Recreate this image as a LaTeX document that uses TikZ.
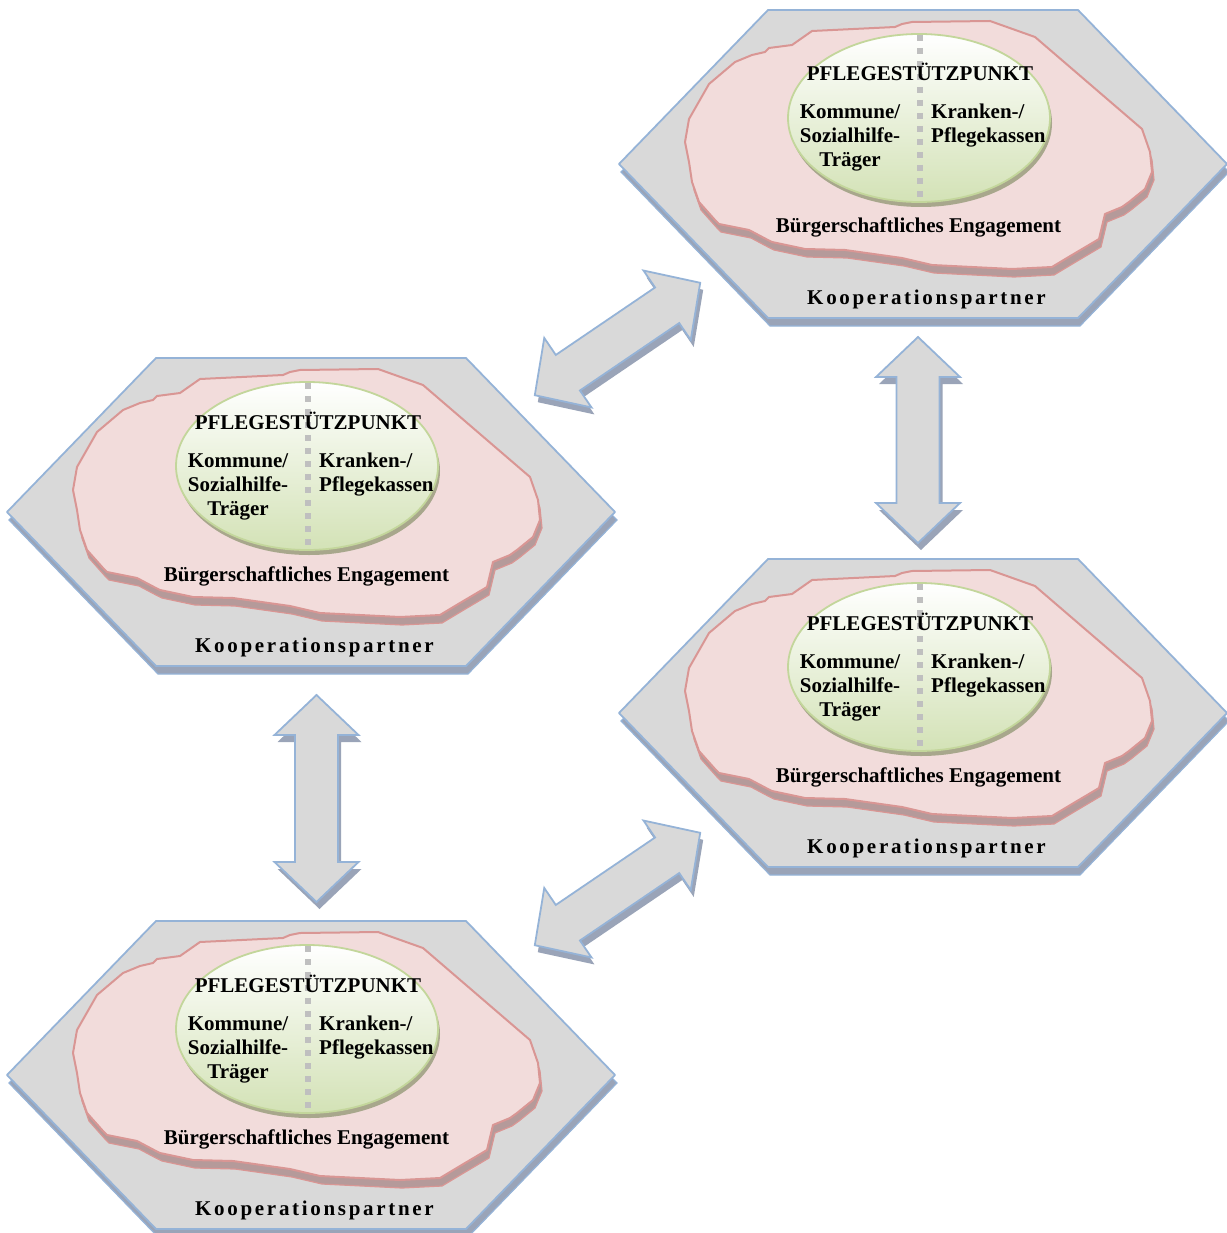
\documentclass[tikz,border=0pt]{standalone}
\usepackage{fontspec}
\setmainfont{Liberation Serif}
\definecolor{hexgray}{HTML}{D9D9D9}
\definecolor{hexblue}{HTML}{95B3D7}
\definecolor{hexdark}{HTML}{9AA4B8}
\definecolor{blobpink}{HTML}{F2DCDB}
\definecolor{blobred}{HTML}{D99694}
\definecolor{blobdark}{HTML}{B59A9A}
\definecolor{ellgreen}{HTML}{D3E2B6}
\definecolor{ellline}{HTML}{C3D69B}
\definecolor{elldark}{HTML}{A8A78C}
\definecolor{divgray}{HTML}{BFBFBF}
\begin{document}
\begin{tikzpicture}[x=1pt,y=1pt,
    hexface/.style={fill=hexgray,draw=hexblue,line width=1.8pt,line join=round,
      preaction={fill=hexdark,draw=hexblue,line width=1.2pt,transform canvas={xshift=2pt,yshift=-8pt}}},
    blobface/.style={fill=blobpink,draw=blobred,line width=2pt,line join=round,
      preaction={fill=blobdark,draw=blobred,line width=1.2pt,transform canvas={xshift=2pt,yshift=-8pt}}},
    ellface/.style={top color=white,bottom color=ellgreen,draw=ellline,line width=1.8pt,
      preaction={fill=elldark,transform canvas={xshift=2pt,yshift=-5pt}}},
    arrowface/.style={fill=hexgray,draw=hexblue,line width=1.8pt,
      preaction={fill=hexdark,transform canvas={xshift=3pt,yshift=-7pt}}},
    divider/.style={draw=divgray,line width=6pt,dash pattern=on 6pt off 7pt},
    txt/.style={font=\bfseries\fontsize{21}{24}\selectfont,inner sep=0pt},
    kooptxt/.style={font=\bfseries\fontsize{21}{24}\selectfont\addfontfeature{LetterSpace=12.8},inner sep=0pt}]
  \useasboundingbox (0,0) rectangle (1226,-1233);
  % the four hexagons
  \foreach \n/\cx/\cy in {a/923/164, b/311/512, c/923/713, d/311/1075}{
    \begin{scope}[shift={(\cx,-\cy)}]
      \draw[hexface] (-155,154) -- (155,154) -- (304,0) -- (155,-154)
        -- (-155,-154) -- (-304,0) -- cycle;
      \draw[blobface] (-11,142) -- (-21,140) -- (-28,137) -- (-111,133) -- (-131,119)
        -- (-154,116) -- (-158,112) -- (-171,109) -- (-188,102) -- (-214,80)
        -- (-234,45) -- (-238,22) -- (-234,2) -- (-231,-18) -- (-224,-38)
        -- (-208,-56) -- (-204,-60) -- (-174,-66) -- (-157,-75) -- (-151,-78)
        -- (-118,-85) -- (-78,-86) -- (-21,-94) -- (9,-101) -- (89,-105)
        -- (129,-103) -- (149,-91) -- (176,-75) -- (182,-50) -- (199,-43)
        -- (206,-38) -- (222,-25) -- (229,-8) -- (227,12) -- (219,35)
        -- (112,127) -- (67,143) -- cycle;
      \draw[ellface] (-4,46) ellipse [x radius=131pt,y radius=84pt];
      \draw[divider] (-3,129) -- (-3,-40);
      \node[txt,anchor=base] (titel\n) at (-3,83) {PFLEGESTÜTZPUNKT};
      \node[txt,anchor=base,align=center] (traeger\n) at (-73,-3) {Kommune/\\Sozialhilfe-\\Träger};
      \node[txt,anchor=base west,align=left] (kassen\n) at (8,21) {Kranken-/\\Pflegekassen};
      \node[txt,anchor=base] (buerger\n) at (-4.5,-69) {Bürgerschaftliches Engagement};
      \node[kooptxt,anchor=base] (koop\n) at (3.5,-140) {Kooperationspartner};
    \end{scope}
  }
  % the double arrows between them
  \foreach \ax/\ay/\ang/\l in {617.5/339/34.2/100, 617.5/889/34.2/100,
                               316.5/798.5/90/103.5, 918/440/90/103}{
    \draw[arrowface,shift={(\ax,-\ay)},rotate=\ang] (-\l,0) -- ({-\l+40},42)
      -- ({-\l+40},21.5) -- ({\l-40},21.5) -- ({\l-40},42) -- (\l,0)
      -- ({\l-40},-42) -- ({\l-40},-21.5) -- ({-\l+40},-21.5) -- ({-\l+40},-42) -- cycle;
  }
\end{tikzpicture}
\end{document}
